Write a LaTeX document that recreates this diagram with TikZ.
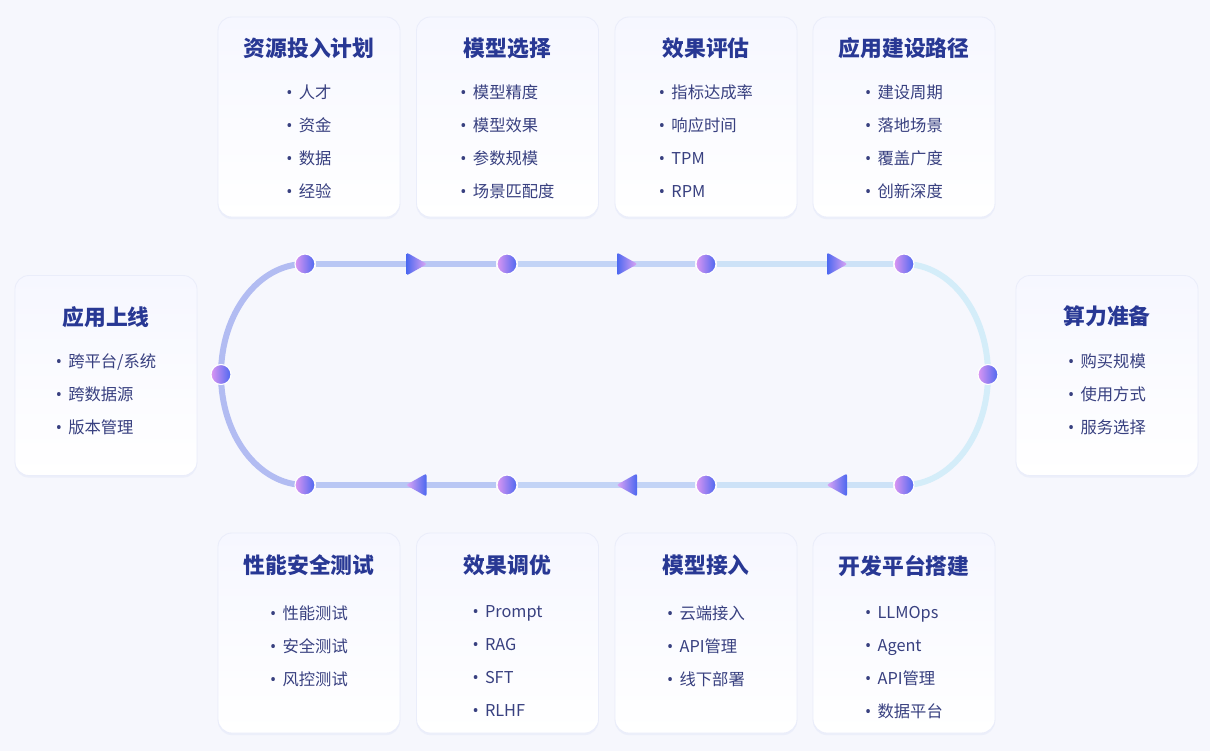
\documentclass[tikz,border=0pt]{standalone}
\usepackage{fontspec}
\setmainfont{Noto Sans CJK SC}
\newfontfamily\bulletfont{Noto Sans}
\usetikzlibrary{positioning, calc, shadows}
\definecolor{mybg}{RGB}{246,247,253}
\definecolor{mytitle}{RGB}{40,56,148}
\definecolor{myitem}{RGB}{56,64,128}
\definecolor{cardtop}{RGB}{246,247,255}
\definecolor{cardedge}{RGB}{234,237,250}
\definecolor{trackL}{RGB}{178,188,242}
\definecolor{trackR}{RGB}{212,237,249}
\definecolor{dotpink}{RGB}{220,150,242}
\definecolor{dotblue}{RGB}{76,104,240}
\pgfdeclarelayer{bglayer}
\pgfdeclarelayer{tracklayer}
\pgfsetlayers{bglayer,tracklayer,main}
\newcommand{\itm}{{\bulletfont\textbullet}\hspace{4.5pt}}
\tikzset{
  card/.style={rectangle, rounded corners=0.35cm, minimum width=4.55cm,
    minimum height=5cm, top color=cardtop, bottom color=white,
    draw=cardedge, line width=0.6pt,
    drop shadow={shadow xshift=0pt, shadow yshift=-1.5pt, fill=cardedge, opacity=0.8}},
  cardtitle/.style={font=\bfseries\fontsize{15.5}{18}\selectfont, text=mytitle, inner sep=0pt},
  cardlist/.style={anchor=north, align=left, font=\fontsize{11.6}{23.5}\selectfont,
    text=myitem, inner sep=0pt},
  dot/.style={circle, minimum size=0.5cm, inner sep=0pt, left color=dotpink,
    right color=dotblue, draw=white, line width=0.8pt},
  track/.style={line width=0.15cm},
  fwdtri/.style={left color=dotblue, right color=dotpink!85, rounded corners=1.5pt},
  backtri/.style={left color=dotpink!85, right color=dotblue, rounded corners=1.5pt}
}

\begin{document}
\begin{tikzpicture}[x=0.025cm, y=0.025cm]
  % Background
  \begin{pgfonlayer}{bglayer}
    \fill[mybg] (0,0) rectangle (1210,-751);
  \end{pgfonlayer}
  \useasboundingbox (0,0) rectangle (1210,-751);

  % Top cards
  \node[card] (c1) at (309,-117) {};
  \node[cardtitle] (t1) at ($(c1.north)+(0,-31.5)$) {资源投入计划};
  \node[cardlist] (l1) at ($(c1.north)+(0,-68)$) {\itm 人才\\\itm 资金\\\itm 数据\\\itm 经验};

  \node[card] (c2) at (507.5,-117) {};
  \node[cardtitle] (t2) at ($(c2.north)+(0,-31.5)$) {模型选择};
  \node[cardlist] (l2) at ($(c2.north)+(0,-68)$) {\itm 模型精度\\\itm 模型效果\\\itm 参数规模\\\itm 场景匹配度};

  \node[card] (c3) at (706,-117) {};
  \node[cardtitle] (t3) at ($(c3.north)+(0,-31.5)$) {效果评估};
  \node[cardlist] (l3) at ($(c3.north)+(0,-68)$) {\itm 指标达成率\\\itm 响应时间\\\itm TPM\\\itm RPM};

  \node[card] (c4) at (904,-117) {};
  \node[cardtitle] (t4) at ($(c4.north)+(0,-31.5)$) {应用建设路径};
  \node[cardlist] (l4) at ($(c4.north)+(0,-68)$) {\itm 建设周期\\\itm 落地场景\\\itm 覆盖广度\\\itm 创新深度};

  % Side cards
  \node[card] (cL) at (106,-375.5) {};
  \node[cardtitle] (tL) at ($(cL.north)+(0,-42)$) {应用上线};
  \node[cardlist] (lL) at ($(cL.north)+(0,-78)$) {\itm 跨平台/系统\\\itm 跨数据源\\\itm 版本管理};

  \node[card] (cR) at (1107,-375.5) {};
  \node[cardtitle] (tR) at ($(cR.north)+(0,-41.5)$) {算力准备};
  \node[cardlist] (lR) at ($(cR.north)+(0,-78)$) {\itm 购买规模\\\itm 使用方式\\\itm 服务选择};

  % Bottom cards
  \node[card] (c5) at (309,-633) {};
  \node[cardtitle] (t5) at ($(c5.north)+(0,-33)$) {性能安全测试};
  \node[cardlist] (l5) at ($(c5.north)+(0,-73)$) {\itm 性能测试\\\itm 安全测试\\\itm 风控测试};

  \node[card] (c6) at (507.5,-633) {};
  \node[cardtitle] (t6) at ($(c6.north)+(0,-33)$) {效果调优};
  \node[cardlist] (l6) at ($(c6.north)+(0,-73)$) {\itm Prompt\\\itm RAG\\\itm SFT\\\itm RLHF};

  \node[card] (c7) at (706,-633) {};
  \node[cardtitle] (t7) at ($(c7.north)+(0,-33)$) {模型接入};
  \node[cardlist] (l7) at ($(c7.north)+(0,-73)$) {\itm 云端接入\\\itm API管理\\\itm 线下部署};

  \node[card] (c8) at (904,-633) {};
  \node[cardtitle] (t8) at ($(c8.north)+(0,-33)$) {开发平台搭建};
  \node[cardlist] (l8) at ($(c8.north)+(0,-73)$) {\itm LLMOps\\\itm Agent\\\itm API管理\\\itm 数据平台};

  % Dots on the track
  \node[dot] (dT1) at (305,-264) {};
  \node[dot] (dT2) at (507,-264) {};
  \node[dot] (dT3) at (706,-264) {};
  \node[dot] (dT4) at (904,-264) {};
  \node[dot] (dR) at (988,-374.5) {};
  \node[dot] (dB4) at (904,-485) {};
  \node[dot] (dB3) at (706,-485) {};
  \node[dot] (dB2) at (507,-485) {};
  \node[dot] (dB1) at (305,-485) {};
  \node[dot] (dL) at (221,-374.5) {};

  % Track
  \begin{pgfonlayer}{tracklayer}
    \draw[track, trackL] (dB1.center) arc[start angle=270, end angle=180, x radius=84, y radius=110.5];
    \draw[track, trackL] (dL.center) arc[start angle=180, end angle=90, x radius=84, y radius=110.5];
    \draw[track, trackR!22!trackL] (dT1) -- (dT2);
    \draw[track, trackR!50!trackL] (dT2) -- (dT3);
    \draw[track, trackR!78!trackL] (dT3) -- (dT4);
    \draw[track, trackR] (dT4.center) arc[start angle=90, end angle=0, x radius=84, y radius=110.5];
    \draw[track, trackR] (dR.center) arc[start angle=0, end angle=-90, x radius=84, y radius=110.5];
    \draw[track, trackR!78!trackL] (dB4) -- (dB3);
    \draw[track, trackR!50!trackL] (dB3) -- (dB2);
    \draw[track, trackR!22!trackL] (dB2) -- (dB1);
  \end{pgfonlayer}

  % Direction arrows
  \coordinate (aT1) at (416.5,-264);
  \coordinate (aT2) at (627,-264);
  \coordinate (aT3) at (837,-264);
  \coordinate (aB1) at (416.5,-485);
  \coordinate (aB2) at (627,-485);
  \coordinate (aB3) at (837,-485);
  \shade[fwdtri] ($(aT1)+(-10,11.5)$) -- ($(aT1)+(10.5,0)$) -- ($(aT1)+(-10,-11.5)$) -- cycle;
  \shade[fwdtri] ($(aT2)+(-10,11.5)$) -- ($(aT2)+(10.5,0)$) -- ($(aT2)+(-10,-11.5)$) -- cycle;
  \shade[fwdtri] ($(aT3)+(-10,11.5)$) -- ($(aT3)+(10.5,0)$) -- ($(aT3)+(-10,-11.5)$) -- cycle;
  \shade[backtri] ($(aB1)+(10,11.5)$) -- ($(aB1)+(-10.5,0)$) -- ($(aB1)+(10,-11.5)$) -- cycle;
  \shade[backtri] ($(aB2)+(10,11.5)$) -- ($(aB2)+(-10.5,0)$) -- ($(aB2)+(10,-11.5)$) -- cycle;
  \shade[backtri] ($(aB3)+(10,11.5)$) -- ($(aB3)+(-10.5,0)$) -- ($(aB3)+(10,-11.5)$) -- cycle;
\end{tikzpicture}
\end{document}
